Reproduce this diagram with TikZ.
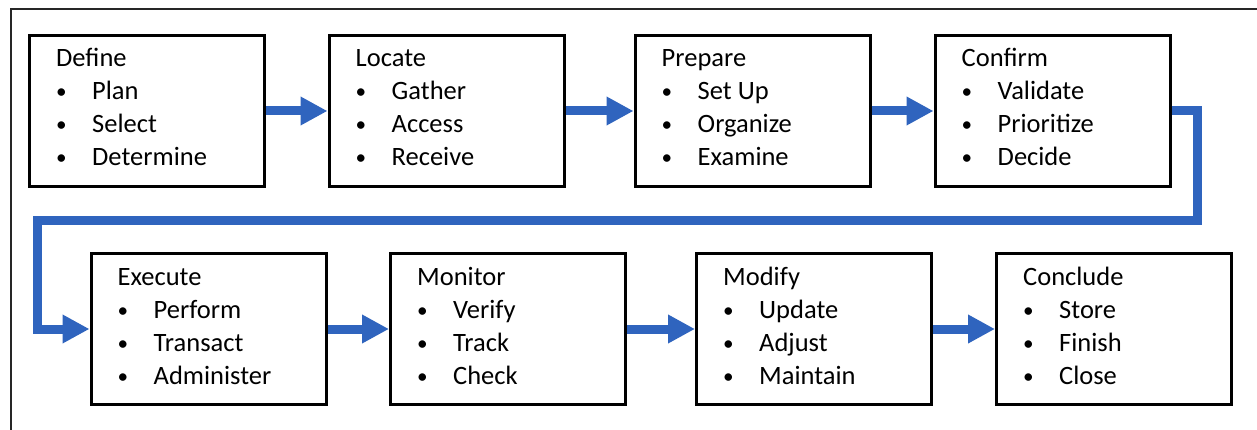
\documentclass[tikz,border=0pt]{standalone}
\usepackage{fontspec}
\setmainfont{Carlito}
\usetikzlibrary{arrows.meta}
\definecolor{flowblue}{RGB}{47,100,190}
\tikzset{
  stepbox/.style={draw=black, line width=3pt, minimum width=235pt, minimum height=151pt, inner sep=0pt},
  steptext/.style={font=\fontsize{26.5}{30}\selectfont, inner sep=0pt, anchor=base west},
  flow/.style={draw=flowblue, line width=9pt, -{Triangle[width=27pt,length=27pt]}},
  frameline/.style={draw=black!85, line width=2pt}
}
\newcommand{\stepbullet}{\makebox[36pt][l]{\raisebox{1pt}{\scalebox{0.8}{\textbullet}}}}
\newcommand{\stepcontent}[5]{%
  \node[steptext] (#1-t) at ([shift={(28,33)}]#1.north west) {#2};
  \node[steptext] (#1-a) at ([shift={(0,33)}]#1-t.base west) {\stepbullet#3};
  \node[steptext] (#1-b) at ([shift={(0,33)}]#1-a.base west) {\stepbullet#4};
  \node[steptext] (#1-c) at ([shift={(0,33)}]#1-b.base west) {\stepbullet#5};
}
\begin{document}
\begin{tikzpicture}[x=1pt,y=-1pt]
  \useasboundingbox (0,0) rectangle (1257,430);
  \clip (0,0) rectangle (1257,430);
  \fill[white] (0,0) rectangle (1257,430);
  \draw[frameline] (1300,9) -- (11,9) -- (11,460);

  \node[stepbox] (b1) at (147,111) {};
  \node[stepbox] (b2) at (446.5,111) {};
  \node[stepbox] (b3) at (752.5,111) {};
  \node[stepbox] (b4) at (1052.5,111) {};
  \node[stepbox] (b5) at (208.5,329) {};
  \node[stepbox] (b6) at (508,329) {};
  \node[stepbox] (b7) at (814,329) {};
  \node[stepbox] (b8) at (1114,329) {};

  \stepcontent{b1}{Define}{Plan}{Select}{Determine}
  \stepcontent{b2}{Locate}{Gather}{Access}{Receive}
  \stepcontent{b3}{Prepare}{Set Up}{Organize}{Examine}
  \stepcontent{b4}{Confirm}{Validate}{Prioritize}{Decide}
  \stepcontent{b5}{Execute}{Perform}{Transact}{Administer}
  \stepcontent{b6}{Monitor}{Verify}{Track}{Check}
  \stepcontent{b7}{Modify}{Update}{Adjust}{Maintain}
  \stepcontent{b8}{Conclude}{Store}{Finish}{Close}

  \coordinate (turnR) at (1197.5,220.5);
  \coordinate (turnL) at (37.5,220.5);

  \draw[flow] (b1.east) -- (b2.west);
  \draw[flow] (b2.east) -- (b3.west);
  \draw[flow] (b3.east) -- (b4.west);
  \draw[flow] (b4.east) -| (turnR) -- (turnL) |- (b5.west);
  \draw[flow] (b5.east) -- (b6.west);
  \draw[flow] (b6.east) -- (b7.west);
  \draw[flow] (b7.east) -- (b8.west);
\end{tikzpicture}
\end{document}
